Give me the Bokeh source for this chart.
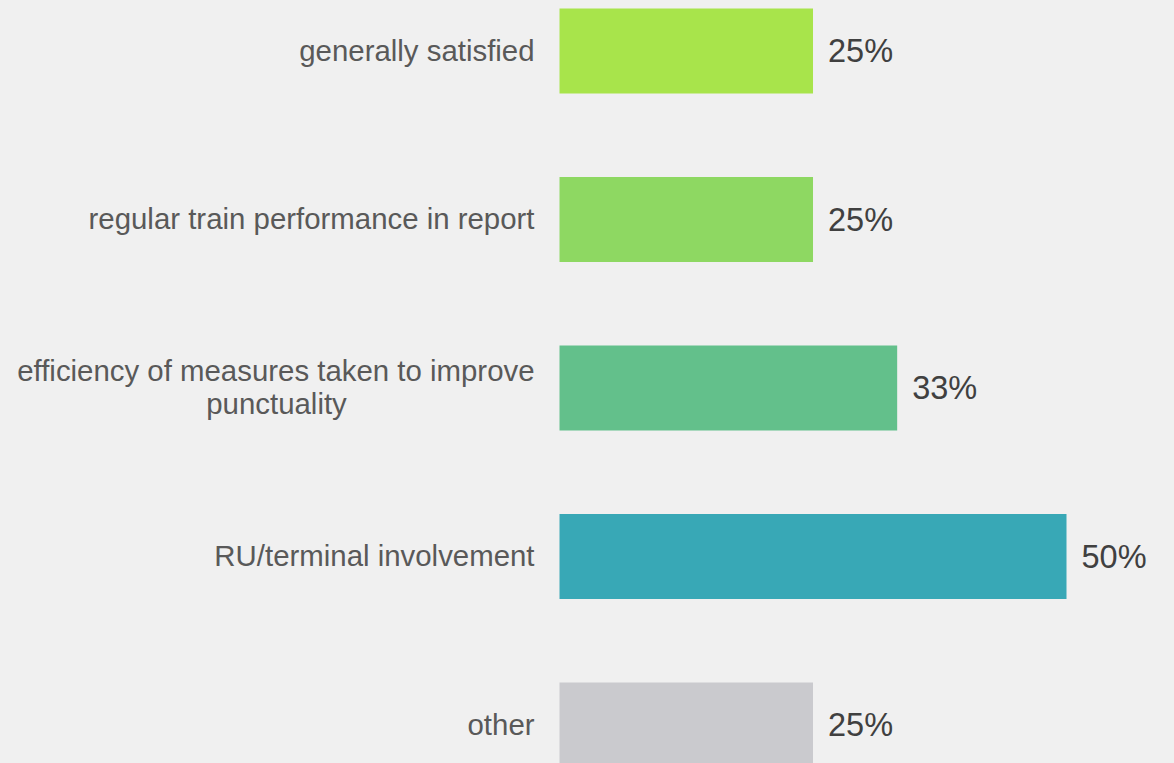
from bokeh.plotting import figure
from bokeh.models import Range1d, ColumnDataSource
from bokeh.core.properties import value
from bokeh.embed import file_html
from bokeh.resources import INLINE

categories = [
    "generally satisfied",
    "regular train performance in report",
    "efficiency of measures taken to improve\npunctuality",
    "RU/terminal involvement",
    "other",
]
values = [25, 25, 33.3, 50, 25]
colors = ["#a8e44b", "#8ed862", "#63c08b", "#38a8b6", "#cacace"]

BG = "#f0f0f0"
FONT = value("Liberation Sans")
n = len(categories)
ypos = [n - 1 - i for i in range(n)]
value_labels = [f"{round(v)}%" for v in values]

p = figure(width=1174, height=763, output_backend="svg", toolbar_location=None,
           x_range=Range1d(-55.13, 60.65), y_range=Range1d(-0.2285, 4.2997),
           min_border=0, min_border_left=0, min_border_right=0,
           min_border_top=0, min_border_bottom=0)
p.background_fill_color = BG
p.border_fill_color = BG
p.outline_line_color = None
p.xaxis.visible = False
p.yaxis.visible = False
p.xgrid.visible = False
p.ygrid.visible = False

src = ColumnDataSource(dict(y=ypos, v=values, c=colors, lab=value_labels))
p.hbar(y="y", left=0, right="v", height=0.504, fill_color="c", line_color=None, source=src)

p.text(x="v", y="y", text="lab", source=src, x_offset=15, y_offset=0.5,
       text_align="left", text_baseline="middle",
       text_font=FONT, text_font_size="32.5px", text_color="#404040")

# category labels
single = [(c, y) for c, y in zip(categories, ypos) if "\n" not in c]
p.text(x=[0] * len(single), y=[y for _, y in single], text=[c for c, _ in single],
       x_offset=-25, y_offset=-0.5, text_align="right", text_baseline="middle",
       text_font=FONT, text_font_size="29.4px", text_color="#595959")
for c, y in zip(categories, ypos):
    if "\n" in c:
        l1, l2 = c.split("\n")
        p.text(x=[0], y=[y], text=[l1], x_offset=-25, y_offset=-17.8,
               text_align="right", text_baseline="middle",
               text_font=FONT, text_font_size="29.4px", text_color="#595959")
        p.text(x=[0], y=[y], text=[l2], x_offset=-283, y_offset=15.8,
               text_align="center", text_baseline="middle",
               text_font=FONT, text_font_size="29.4px", text_color="#595959")

html = file_html(p, INLINE)
html = html.replace("<head>", "<head><style>body{background:%s;}</style>" % BG, 1)
open("out.html", "w").write(html)
